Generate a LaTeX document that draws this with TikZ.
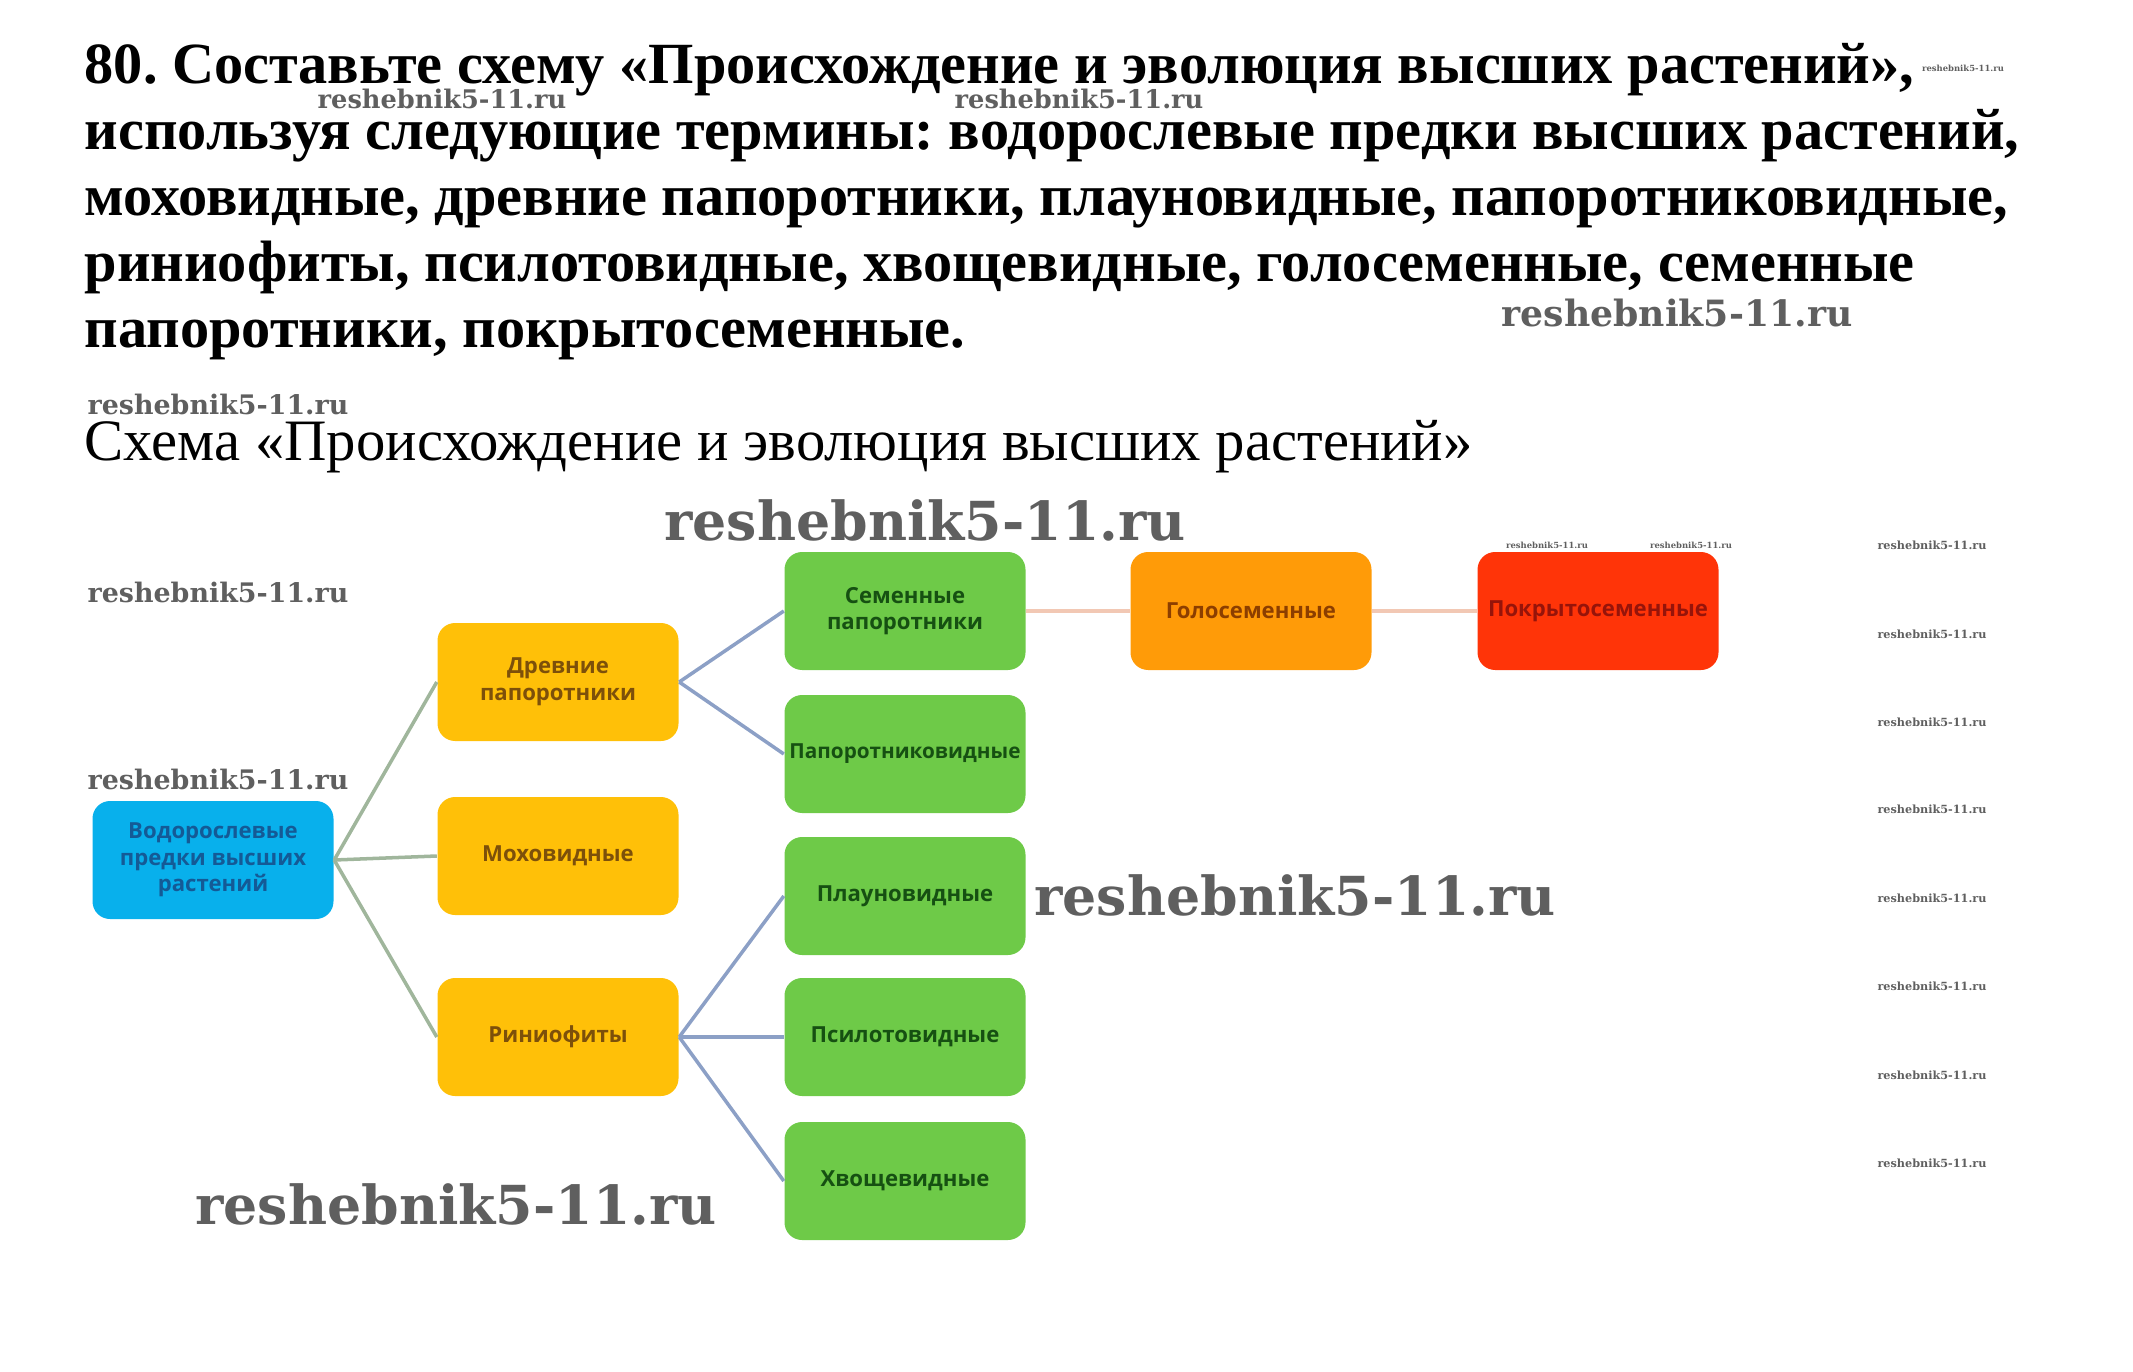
\documentclass[tikz,border=0pt]{standalone}
\usepackage{fontspec}
\setmainfont{Liberation Serif}
\newfontfamily\boxfont{Open Sans}
\newfontfamily\wmfont{DejaVu Serif}
\usetikzlibrary{positioning}
\frenchspacing
\definecolor{AlgaeBlue}{RGB}{8,176,236}
\definecolor{AlgaeText}{RGB}{20,90,150}
\definecolor{OldYellow}{RGB}{255,192,8}
\definecolor{OldText}{RGB}{125,80,10}
\definecolor{LeafGreen}{RGB}{110,202,72}
\definecolor{LeafText}{RGB}{22,80,18}
\definecolor{GymOrange}{RGB}{255,155,8}
\definecolor{GymText}{RGB}{140,62,0}
\definecolor{AngioRed}{RGB}{255,52,8}
\definecolor{AngioText}{RGB}{150,20,10}
\definecolor{LinkOlive}{RGB}{160,182,156}
\definecolor{LinkSlate}{RGB}{140,160,198}
\definecolor{LinkPeach}{RGB}{242,200,180}
\definecolor{MarkGray}{RGB}{95,95,95}

\begin{document}
\begin{tikzpicture}[
    font=\boxfont\bfseries\fontsize{6.3}{7.6}\selectfont,
    stage/.style={
        rounded corners=5pt,
        minimum width=2.41cm,
        minimum height=1.18cm,
        inner xsep=0pt,
        align=center
    },
    algae/.style={stage, fill=AlgaeBlue, text=AlgaeText},
    old/.style={stage, fill=OldYellow, text=OldText},
    leaf/.style={stage, fill=LeafGreen, text=LeafText},
    link/.style={line width=1pt},
    question/.style={
        anchor=base west,
        inner sep=0pt,
        font=\rmfamily\bfseries\fontsize{16.6}{19}\selectfont
    },
    wm/.style={
        inner sep=0pt,
        text=MarkGray,
        font=\wmfont\bfseries\fontsize{#1}{#1}\selectfont
    }
]
\useasboundingbox (0,0) rectangle (21.33,-13.71);

% task text
\node[question] (q1) at (0.84,-0.83) {80. Составьте схему «Происхождение и эволюция высших растений»,};
\node[question] (q2) at (0.84,-1.49) {используя следующие термины: водорослевые предки высших растений,};
\node[question] (q3) at (0.84,-2.15) {моховидные, древние папоротники, плауновидные, папоротниковидные,};
\node[question] (q4) at (0.84,-2.81) {риниофиты, псилотовидные, хвощевидные, голосеменные, семенные};
\node[question] (q5) at (0.84,-3.47) {папоротники, покрытосеменные.};

\node[question, font=\rmfamily\fontsize{16.7}{20}\selectfont] (head) at (0.84,-4.60)
    {Схема «Происхождение и эволюция высших растений»};

% root
\node[algae] (algae) at (2.13,-8.60) {Водорослевые\\предки высших\\растений};

% second column
\node[old] (ancient) at (5.58,-6.82) {Древние\\папоротники};
\node[old] (moss)    at (5.58,-8.56) {Моховидные};
\node[old] (rhynia)  at (5.58,-10.37) {Риниофиты};

\draw[link, LinkOlive] (algae.east) -- (ancient.west);
\draw[link, LinkOlive] (algae.east) -- (moss.west);
\draw[link, LinkOlive] (algae.east) -- (rhynia.west);

% third column
\node[leaf] (seedfern) at (9.05,-6.11) {Семенные\\папоротники};
\node[leaf, font=\boxfont\bfseries\fontsize{5.9}{7}\selectfont] (fern) at (9.05,-7.54) {Папоротниковидные};
\node[leaf] (lyco)     at (9.05,-8.96) {Плауновидные};
\node[leaf] (psilo)    at (9.05,-10.37) {Псилотовидные};
\node[leaf] (horse)    at (9.05,-11.81) {Хвощевидные};

\draw[link, LinkSlate] (ancient.east) -- (seedfern.west);
\draw[link, LinkSlate] (ancient.east) -- (fern.west);
\draw[link, LinkSlate] (rhynia.east) -- (lyco.west);
\draw[link, LinkSlate] (rhynia.east) -- (psilo.west);
\draw[link, LinkSlate] (rhynia.east) -- (horse.west);

% seed plants
\node[stage, fill=GymOrange, text=GymText] (gymno) at (12.51,-6.11) {Голосеменные};
\node[stage, fill=AngioRed, text=AngioText] (angio) at (15.98,-6.11) {Покрытосеменные};

\draw[link, LinkPeach] (seedfern.east) -- (gymno.west);
\draw[link, LinkPeach] (gymno.east) -- (angio.west);

% watermarks
\node[wm=7.3] (w1) at (4.42,-0.99) {reshebnik5-11.ru};
\node[wm=7.3] (w2) at (10.79,-0.99) {reshebnik5-11.ru};
\node[wm=2.4] (w3) at (19.63,-0.68) {reshebnik5-11.ru};
\node[wm=10.3] (w4) at (16.77,-3.13) {reshebnik5-11.ru};
\node[wm=7.65] (w5) at (2.18,-4.04) {reshebnik5-11.ru};
\node[wm=15.3] (w6) at (9.25,-5.20) {reshebnik5-11.ru};
\node[wm=7.65] (w7) at (2.18,-5.92) {reshebnik5-11.ru};
\node[wm=7.65] (w8) at (2.18,-7.79) {reshebnik5-11.ru};
\node[wm=15.3] (w9) at (12.95,-8.95) {reshebnik5-11.ru};
\node[wm=15.3] (w10) at (4.56,-12.04) {reshebnik5-11.ru};
\node[wm=2.4] (w11) at (15.47,-5.45) {reshebnik5-11.ru};
\node[wm=2.4] (w12) at (16.91,-5.45) {reshebnik5-11.ru};
\foreach \y [count=\i] in {5.45,6.34,7.22,8.09,8.98,9.86,10.75,11.63}
    \node[wm=3.2] (c\i) at (19.32,-\y) {reshebnik5-11.ru};

\end{tikzpicture}
\end{document}
